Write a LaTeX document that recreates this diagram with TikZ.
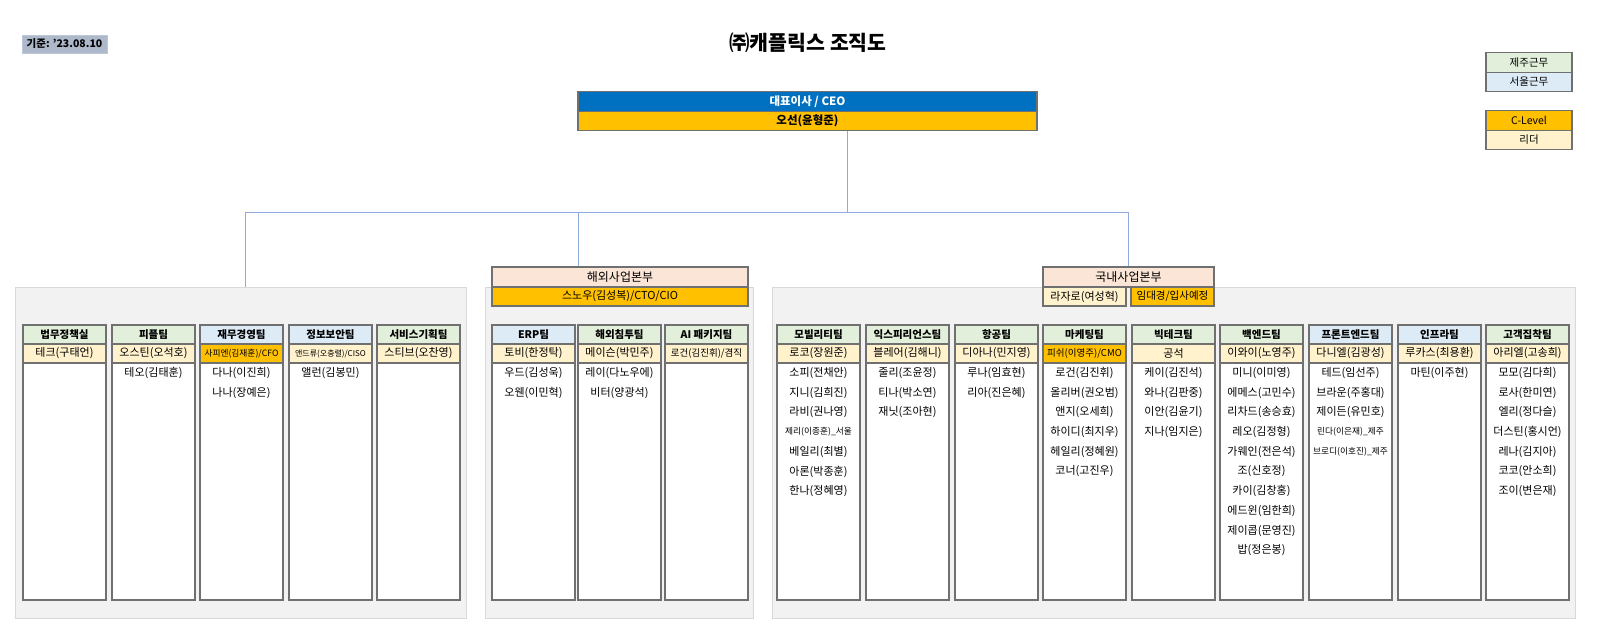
\documentclass[tikz,border=0pt]{standalone}
\usepackage{fontspec}
\setmainfont{Noto Sans CJK KR}
\newcommand\fsz[1]{\fontsize{#1}{#1}\selectfont}
\definecolor{hgreen}{HTML}{E2EFDA}
\definecolor{hblue}{HTML}{DDEBF7}
\definecolor{leaderY}{HTML}{FFF2CC}
\definecolor{gold}{HTML}{FFC000}
\definecolor{peach}{HTML}{FBE5D6}
\definecolor{panelfill}{HTML}{F2F2F2}
\definecolor{panelline}{HTML}{D9D9D9}
\definecolor{linkblue}{HTML}{8FAADC}
\definecolor{boxline}{HTML}{707070}
\definecolor{ceoblue}{HTML}{0070C0}
\definecolor{stampfill}{HTML}{ADB9CA}
\tikzset{
  cell/.style={draw=boxline, line width=1.1pt, rectangle, inner sep=0pt,
    minimum width=83pt, minimum height=19pt, anchor=center},
  hdr/.style={cell, font=\bfseries\fsz{10.5}},
  ldr/.style={cell, fill=leaderY, font=\fsz{11}},
  bodybox/.style={cell, fill=white, minimum height=237pt},
  nm/.style={inner sep=0pt, font=\fsz{11}},
  panel/.style={draw=panelline, fill=panelfill, line width=0.8pt, rectangle, inner sep=0pt},
  conn/.style={draw=linkblue, line width=0.9pt},
  divh/.style={draw=boxline, line width=1.1pt, rectangle, inner sep=0pt, minimum height=20pt, fill=peach, font=\fsz{12}},
  divl/.style={draw=boxline, line width=1.1pt, rectangle, inner sep=0pt, minimum height=19pt, font=\fsz{11}},
  legend/.style={draw=boxline, line width=1.1pt, rectangle, inner sep=0pt, minimum width=86pt, minimum height=19.5pt, font=\fsz{10.5}},
}
\newcommand\teamcol[7]{%
  \node[hdr, fill=#4] (#1h) at (#2+41.5,334.5) {#3};
  \node[ldr, #6] (#1l) at (#2+41.5,353.5) {#5};
  \node[bodybox] (#1b) at (#2+41.5,481.5) {};
  \foreach \n [count=\k] in {#7} {\node[nm] (#1n\k) at (#2+41.5,{373+19.7*(\k-1)}) {\n};}
}
\newcommand\sm{\fsz{8.7}}
\begin{document}
\begin{tikzpicture}[x=1pt, y=-1pt]
\useasboundingbox[fill=white] (0,0) rectangle (1600,634);

% title and stamp
\node[font=\bfseries\fsz{20.5}] (title) at (808,43) {㈜캐플릭스 조직도};
\node[rectangle, fill=stampfill, draw=stampfill!80!white, minimum width=85pt, minimum height=18pt, inner sep=0pt, font=\bfseries\fsz{10.5}] (stamp) at (64.5,44) {기준: '23.08.10};

% legend
\node[legend, fill=hgreen] (lg1) at (1529,62.5) {제주근무};
\node[legend, fill=hblue] (lg2) at (1529,82) {서울근무};
\node[legend, fill=gold] (lg3) at (1529,120.5) {C-Level};
\node[legend, fill=leaderY] (lg4) at (1529,140) {리더};

% CEO
\node[draw=boxline, line width=1.1pt, fill=ceoblue, text=white, minimum width=459pt, minimum height=19.5pt, inner sep=0pt, font=\bfseries\fsz{11.5}] (ceo1) at (807.5,101.5) {대표이사 / CEO};
\node[draw=boxline, line width=1.1pt, fill=gold, minimum width=459pt, minimum height=19.5pt, inner sep=0pt, font=\bfseries\fsz{11.5}] (ceo2) at (807.5,121) {오선(윤형준)};

% panels
\node[panel, minimum width=451pt, minimum height=331pt] (lp) at (240.5,452.5) {};
\node[panel, minimum width=268pt, minimum height=331pt] (mp) at (619,452.5) {};
\node[panel, minimum width=803pt, minimum height=331pt] (rp) at (1173.5,452.5) {};

% connectors
\coordinate (jc) at (847,212);
\coordinate (jl) at (245,212);
\coordinate (jm) at (578,212);
\coordinate (jr) at (1128,212);

% division heads
\node[divh, minimum width=256pt] (ovh) at (620,277) {해외사업본부};
\node[divl, minimum width=256pt, fill=gold] (ovl) at (620,296.5) {스노우(김성복)/CTO/CIO};
\node[divh, minimum width=171pt] (dmh) at (1128.5,277) {국내사업본부};
\node[divl, minimum width=83pt, fill=leaderY] (dml1) at (1084.5,296.5) {라자로(여성혁)};
\node[divl, minimum width=83pt, fill=gold, font=\fsz{10.5}] (dml2) at (1172.5,296.5) {임대경/입사예정};

\draw[conn] (ceo2.south -| jc) -- (jc);
\draw[conn] (jl) -- (jr);
\draw[conn] (jl) -- (jl |- lp.north);
\draw[conn] (jm) -- (jm |- ovh.north);
\draw[conn] (jr) -- (jr |- dmh.north);

% left panel teams
\teamcol{t1}{23}{법무정책실}{hgreen}{테크(구태언)}{}{}
\teamcol{t2}{112}{피플팀}{hgreen}{오스틴(오석호)}{}{테오(김태훈)}
\teamcol{t3}{200}{재무경영팀}{hblue}{사피엔(김재훈)/CFO}{fill=gold, font=\fsz{8.7}}{다나(이진희),나나(장예은)}
\teamcol{t4}{289}{정보보안팀}{hblue}{앤드류(오충렬)/CISO}{font=\fsz{8}}{앨런(김봉민)}
\teamcol{t5}{377}{서비스기획팀}{hgreen}{스티브(오찬영)}{}{}

% middle panel teams
\teamcol{t6}{492}{ERP팀}{hblue}{토비(한정탁)}{}{우드(김성욱),오웬(이민혁)}
\teamcol{t7}{578}{해외침투팀}{hgreen}{메이슨(박민주)}{}{레이(다노우에),비터(양광석)}
\teamcol{t8}{665}{AI 패키지팀}{hgreen}{로건(김진휘)/겸직}{font=\fsz{9.5}}{}

% right panel teams
\teamcol{t9}{777}{모빌리티팀}{hgreen}{로코(장원준)}{}{소피(전채안),지니(김희진),라비(권나영),\sm 제리(이종훈)\_서울,베일리(최별),아론(박종훈),한나(정혜영)}
\teamcol{t10}{866}{익스피리언스팀}{hgreen}{블레어(김해니)}{}{줄리(조윤정),티나(박소연),재닛(조아현)}
\teamcol{t11}{955}{항공팀}{hgreen}{디아나(민지영)}{}{루나(임효현),리아(진은혜)}
\teamcol{t12}{1043}{마케팅팀}{hgreen}{피쉬(이영주)/CMO}{fill=gold, font=\fsz{9.5}}{로건(김진휘),올리버(권오범),앤지(오세희),하이디(최지우),헤일리(정혜원),코너(고진우)}
\teamcol{t13}{1132}{빅테크팀}{hgreen}{공석}{}{케이(김진석),와나(김판중),이안(김윤기),지나(임지은)}
\teamcol{t14}{1220}{백엔드팀}{hgreen}{이와이(노영주)}{}{미니(이미영),에메스(고민수),리차드(송승효),레오(김정형),가웨인(전은석),조(신호정),카이(김창홍),에드윈(임한희),제이콥(문영진),밥(정은봉)}
\teamcol{t15}{1309}{프론트엔드팀}{hblue}{다니엘(김광성)}{}{테드(임선주),브라운(주홍대),제이든(유민호),\sm 린다(이은재)\_제주,\sm 브로디(이호진)\_제주}
\teamcol{t16}{1398}{인프라팀}{hblue}{루카스(최용환)}{}{마틴(이주현)}
\teamcol{t17}{1486}{고객집착팀}{hgreen}{아리엘(고송희)}{}{모모(김다희),로사(한미연),엘리(정다슬),더스틴(홍시언),레나(김지아),코코(안소희),조이(변은재)}
\end{tikzpicture}
\end{document}
